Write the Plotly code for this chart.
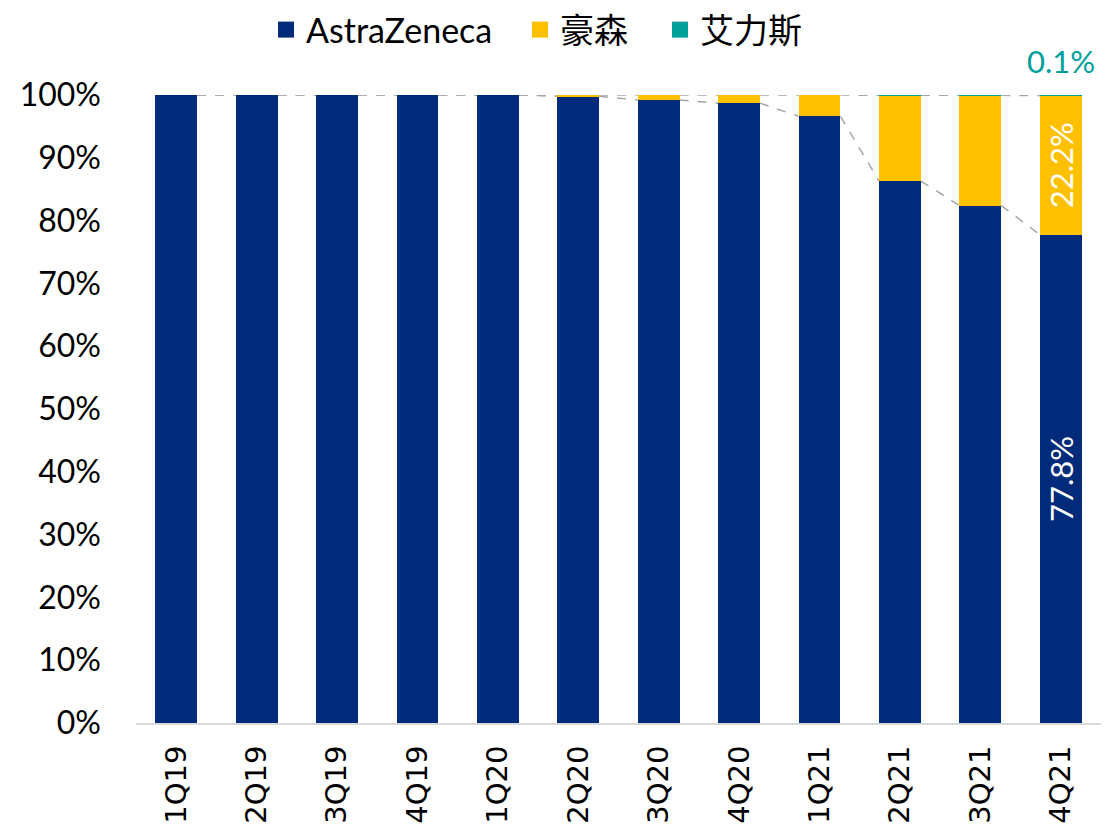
import plotly.graph_objects as go

categories = ["1Q19", "2Q19", "3Q19", "4Q19", "1Q20", "2Q20", "3Q20", "4Q20", "1Q21", "2Q21", "3Q21", "4Q21"]
astrazeneca = [100, 100, 100, 100, 100, 99.8, 99.2, 98.7, 96.6, 86.3, 82.4, 77.75]
hansoh = [0, 0, 0, 0, 0, 0.2, 0.8, 1.3, 3.4, 13.65, 17.55, 22.15]
allist = [0, 0, 0, 0, 0, 0, 0, 0, 0, 0.05, 0.05, 0.1]
az_labels = [""] * 11 + ["77.8%"]
hs_labels = [""] * 11 + ["22.2%"]
al_label = "0.1%"
series_names = ["AstraZeneca", "豪森", "艾力斯"]

C_AZ = "#002B7A"
C_HS = "#FFC000"
C_AL = "#00A09A"
colors = [C_AZ, C_HS, C_AL]
BAR_W = 0.52
FONT = "Lato, Noto Sans CJK SC, Liberation Sans"
W, H = 1112, 831

fig = go.Figure()
fig.add_trace(go.Bar(x=categories, y=astrazeneca, name=series_names[0], marker_color=C_AZ,
                     marker_line_width=0, showlegend=False,
                     width=BAR_W, text=az_labels, textposition="inside", textangle=-90,
                     insidetextanchor="middle", constraintext="none",
                     textfont=dict(color="white", size=31, family=FONT)))
fig.add_trace(go.Bar(x=categories, y=hansoh, name=series_names[1], marker_color=C_HS,
                     marker_line_width=0, showlegend=False,
                     width=BAR_W, text=hs_labels, textposition="inside", textangle=-90,
                     insidetextanchor="middle", constraintext="none",
                     textfont=dict(color="white", size=31, family=FONT)))
fig.add_trace(go.Bar(x=categories, y=allist, name=series_names[2], marker_color=C_AL,
                     marker_line_width=0, showlegend=False, width=BAR_W))

# legend proxies with larger square swatches, one legend box per entry
legend_ids = ["legend", "legend2", "legend3"]
legend_left_px = [258, 512, 652]
for name, col, lid in zip(series_names, colors, legend_ids):
    fig.add_trace(go.Scatter(x=[None], y=[None], mode="markers", name=name, legend=lid,
                             marker=dict(symbol="square", size=20, color=col)))

# label above last stack
last = len(categories) - 1
total_last = astrazeneca[last] + hansoh[last] + allist[last]
fig.add_annotation(x=categories[last], y=total_last, xref="x", yref="y", text=al_label,
                   showarrow=False, yanchor="bottom", yshift=13,
                   font=dict(color=C_AL, size=31, family=FONT))

# series lines connecting segment tops
tops_az = astrazeneca
tops_hs = [a + h for a, h in zip(astrazeneca, hansoh)]
shapes = []
for tops in (tops_az, tops_hs):
    for i in range(len(categories) - 1):
        shapes.append(dict(type="line", xref="x", yref="y",
                           x0=i + BAR_W / 2, x1=i + 1 - BAR_W / 2,
                           y0=tops[i], y1=tops[i + 1],
                           line=dict(color="#A6A6A6", width=1.5, dash="dash"), layer="below"))

legend_layouts = {}
for lid, xl in zip(legend_ids, legend_left_px):
    legend_layouts[lid] = dict(orientation="h", xref="container", yref="container",
                               x=xl / W, xanchor="left", y=1 - 22 / H, yanchor="middle",
                               font=dict(size=34, family=FONT, color="black"),
                               itemwidth=30, bgcolor="rgba(0,0,0,0)")

fig.update_layout(
    barmode="stack",
    bargap=0.48,
    width=W, height=H,
    margin=dict(l=128, r=19, t=87, b=116, autoexpand=False),
    paper_bgcolor="white", plot_bgcolor="white",
    shapes=shapes,
    font=dict(family=FONT, color="black"),
    **legend_layouts,
)
fig.update_xaxes(type="category", tickangle=-90, showgrid=False, showline=True,
                 linecolor="#D9D9D9", linewidth=2, ticks="", automargin=False,
                 ticklabelstandoff=9,
                 tickfont=dict(size=29, family="DejaVu Sans", color="black"))
fig.update_yaxes(range=[0, 100], dtick=10, ticksuffix="%", showgrid=False, zeroline=False,
                 showline=False, ticks="", automargin=False, ticklabelstandoff=34,
                 tickfont=dict(size=32, family=FONT, color="black"))

fig.write_html("out.html")
